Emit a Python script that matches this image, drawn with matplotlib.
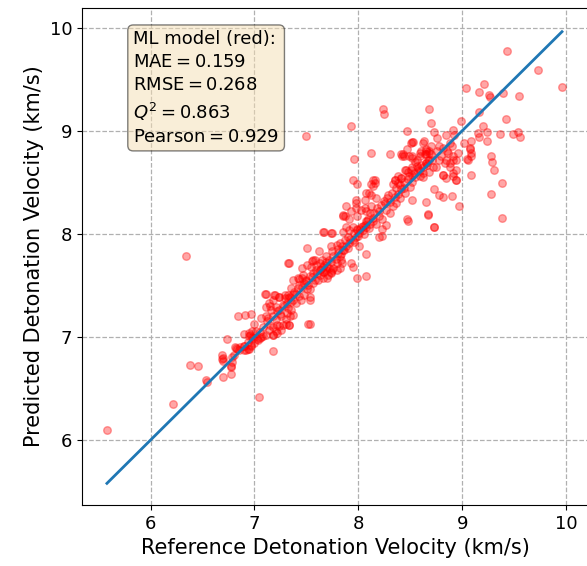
import numpy as np
import matplotlib
matplotlib.use('Agg')
import matplotlib.pyplot as plt

# Data (km/s)
ref = [5.58, 6.22, 6.34, 6.375, 6.46, 6.53, 6.54, 6.70, 6.77, 6.70, 6.69, 6.78, 6.77, 6.80,
       6.83, 6.90, 6.74, 6.90, 6.96, 6.98, 6.94, 7.04, 7.18, 6.84, 6.91, 6.97, 7.00, 7.11, 7.13,
       7.18, 7.22, 7.33, 7.53, 7.53,
       6.69, 6.70, 6.77, 6.78, 6.82, 6.85, 6.90, 6.92, 6.95, 6.97, 6.95, 6.99, 7.03, 7.06,
       7.11, 7.14, 7.20, 7.24, 7.29, 7.32, 7.35, 7.18, 7.22, 7.26, 7.30, 7.33,
       7.10, 7.19, 7.18, 7.11, 7.16, 7.21, 7.24, 7.29, 7.32, 7.35, 7.37, 7.33,
       7.37, 7.42, 7.43, 7.47, 7.50, 7.53, 7.53,
       7.46, 7.51, 7.55, 7.59, 7.63, 7.66, 7.67, 7.71, 7.74, 7.76, 7.74, 7.79, 7.82, 7.84, 7.69,
       7.51, 7.62, 7.74, 7.79, 7.82, 7.83, 7.93, 7.95, 7.99, 8.07, 7.67,
       7.74, 7.85, 7.88, 7.91, 7.95, 7.99, 8.04, 7.85, 7.87, 7.98, 8.03, 7.98, 8.07, 8.01,
       7.96, 8.12, 8.30, 8.41, 8.44, 8.51, 8.62, 8.65, 8.68, 8.78, 8.81, 8.84,
       7.95, 7.99, 8.14, 8.12, 8.16, 8.07, 8.12,
       8.35, 8.38, 8.41, 8.44, 8.48, 8.51, 8.54, 8.57, 8.59, 8.62, 8.65, 8.66,
       8.73, 8.78, 8.52, 8.47, 8.67, 8.73, 8.23, 8.33,
       7.88, 7.93, 7.98, 8.06, 8.11, 7.85, 7.91, 7.99, 8.07, 8.14, 8.20, 8.27, 8.30, 8.35, 8.38, 8.41,
       9.04, 9.16, 9.21, 9.26, 9.39, 9.42, 8.68, 8.70, 8.99, 9.16, 9.20, 8.47, 8.73, 8.91, 8.92,
       8.52, 8.63, 9.15, 9.16, 9.24, 9.24, 9.36, 9.02, 9.08, 9.07, 9.05, 9.08,
       9.28, 9.29, 9.31, 9.08, 8.91, 8.96, 8.94, 8.88, 8.83, 8.81, 8.91,
       8.43, 8.52, 8.59, 8.65, 8.70, 8.76, 8.67, 8.60, 8.52, 8.46, 8.72, 8.78,
       8.76, 8.84, 8.88,
       9.49, 9.54, 9.56, 9.07, 9.08, 9.06, 9.38, 9.28, 9.38, 8.97, 8.90, 8.81,
       8.94, 8.84, 9.43, 9.73, 9.96, 9.27, 9.55, 8.24, 8.25, 7.93, 7.50, 7.65, 7.56,
       8.65, 8.67, 8.73, 8.48, 8.23, 7.66, 7.75, 8.07,
       8.06, 8.10, 8.14, 8.16, 8.29, 8.35, 8.41, 8.49, 8.52,
       8.47, 8.53, 8.42, 8.49, 8.52, 8.56, 8.59, 8.64, 8.65, 8.68, 8.56, 8.59, 8.65, 8.68, 8.71,
       8.81, 8.88, 8.91, 8.86, 8.94, 8.94, 8.91,
       6.81, 6.86, 6.90, 6.94, 6.97, 7.00, 7.05, 7.08, 6.95, 7.01, 7.11, 7.14, 7.18, 7.21, 7.24,
       7.27, 7.30, 7.34, 7.37, 7.52, 7.32,
       7.24, 7.27, 7.31, 7.34, 7.37, 7.38, 7.42, 7.43, 7.46, 7.50, 7.53, 7.56, 7.59, 7.63, 7.66,
       7.69, 7.72, 7.75, 7.79, 7.82, 7.85, 7.88, 7.91, 7.95, 7.98, 8.01, 8.04, 8.07, 8.11, 8.14,
       7.74, 7.70, 7.66, 7.61, 7.56, 7.51, 7.48, 7.45, 7.40, 7.35, 7.31, 7.26, 7.21,
       7.54, 7.58, 7.63, 7.69, 7.75, 7.80, 7.84, 7.87, 7.90, 7.96, 7.99, 8.03, 8.06, 8.09,
       8.17, 8.23, 8.27, 8.20,
       8.18, 8.22, 8.25, 8.28, 8.32, 8.36, 8.40, 8.44, 8.48, 8.52, 8.55, 8.58, 8.62, 8.45, 8.50,
       8.36, 8.30, 8.40, 8.26, 8.20, 8.15, 8.12, 8.17, 8.33, 8.38, 8.45, 8.55, 8.60, 8.70, 8.62,
       8.68, 8.75, 8.80, 8.85, 8.90,
       7.05, 7.08, 7.12, 7.15, 7.18, 7.22, 7.25, 7.28, 7.32, 7.02, 6.98, 7.06, 7.15, 7.40, 7.43,
       7.46, 7.48, 7.52, 7.55, 7.58, 7.60, 7.64, 7.67, 7.70, 7.72, 7.76, 7.78, 7.80, 7.83, 7.86,
       7.90, 7.92, 7.96, 8.00, 8.02, 8.05, 8.08, 8.10]

pred = [6.10, 6.35, 7.78, 6.73, 6.72, 6.58, 6.56, 6.61, 6.64, 6.80, 6.82, 6.81, 6.72, 6.82,
        6.88, 6.87, 6.98, 7.03, 7.02, 7.00, 6.95, 6.42, 6.86, 7.20, 7.21, 7.22, 7.13, 7.20, 7.18,
        7.02, 7.04, 7.12, 7.13, 7.36,
        6.79, 6.77, 6.71, 6.76, 6.89, 6.87, 6.91, 6.87, 6.88, 6.91, 7.04, 6.99, 6.97, 7.00,
        7.42, 7.33, 7.41, 7.39, 7.41, 7.38, 7.34, 7.10, 7.12, 7.07, 7.13, 7.12,
        7.42, 7.41, 7.36, 7.29, 7.26, 7.29, 7.39, 7.38, 7.41, 7.47, 7.42, 7.72,
        7.55, 7.57, 7.50, 7.60, 7.55, 7.46, 7.39,
        7.67, 7.70, 7.74, 7.70, 7.65, 7.68, 7.63, 7.60, 7.63, 7.67, 7.73, 7.65, 7.67, 7.72, 7.78,
        7.86, 7.83, 7.88, 7.89, 7.91, 7.75, 7.72, 7.68, 7.57, 7.59, 8.02,
        8.01, 8.02, 8.07, 8.04, 8.07, 8.05, 8.08, 8.18, 8.17, 8.25, 8.23, 8.33, 7.80, 7.88,
        8.73, 8.78, 8.77, 8.77, 8.75, 8.88, 8.88, 8.77, 8.80, 8.85, 8.83, 8.72,
        8.52, 8.48, 8.52, 8.48, 8.49, 8.40, 8.38,
        8.52, 8.49, 8.54, 8.44, 8.60, 8.62, 8.59, 8.64, 8.56, 8.59, 8.69, 8.67,
        8.43, 8.38, 8.33, 8.14, 8.18, 8.07, 8.14, 8.27,
        8.27, 8.22, 8.30, 8.25, 8.20, 8.17, 8.14, 8.17, 8.12, 8.15, 8.17, 8.23, 8.31, 8.36, 8.39, 8.43,
        9.41, 9.38, 9.45, 9.35, 9.37, 9.11, 9.21, 9.07, 9.09, 9.18, 9.05, 9.00, 8.99, 9.01, 8.96,
        8.89, 8.90, 8.98, 8.94, 8.99, 8.90, 8.97, 8.88, 8.90, 8.83, 8.73, 8.75,
        8.75, 8.70, 8.62, 8.57, 8.75, 8.78, 8.72, 8.65, 8.69, 8.57, 8.56,
        8.77, 8.75, 8.78, 8.82, 8.77, 8.80, 8.72, 8.67, 8.65, 8.62, 8.65, 8.72,
        8.93, 8.96, 8.88,
        8.97, 8.99, 8.94, 8.82, 8.78, 8.72, 8.49, 8.39, 8.15, 8.27, 8.37, 8.36,
        8.52, 8.54, 9.77, 9.59, 9.42, 9.33, 9.34, 9.21, 9.16, 9.05, 8.95, 7.75, 7.75,
        8.31, 8.19, 8.07, 8.12, 7.98, 8.02, 8.01, 8.22,
        8.33, 8.40, 8.46, 8.52, 8.38, 8.52, 8.54, 8.56, 8.57,
        8.82, 8.89, 8.75, 8.75, 8.74, 8.72, 8.75, 8.77, 8.80, 8.78, 8.66, 8.61, 8.69, 8.72, 8.72,
        8.57, 8.69, 8.72, 8.78, 8.62, 8.52, 8.59,
        6.90, 6.90, 6.91, 6.88, 6.92, 6.94, 6.99, 7.01, 7.01, 7.06, 7.02, 7.07, 7.02, 7.06, 7.11,
        7.12, 7.17, 7.20, 7.21, 7.13, 7.72,
        7.26, 7.31, 7.33, 7.39, 7.36, 7.44, 7.47, 7.56, 7.57, 7.54, 7.59, 7.62, 7.65, 7.60, 7.63,
        7.65, 7.67, 7.65, 7.72, 7.78, 7.84, 7.88, 7.91, 7.94, 7.97, 8.01, 8.04, 8.07, 8.10, 8.12,
        7.62, 7.57, 7.57, 7.55, 7.52, 7.46, 7.41, 7.36, 7.33, 7.26, 7.23, 7.20, 7.17,
        7.68, 7.75, 7.72, 7.73, 7.83, 7.81, 7.88, 7.94, 7.97, 8.01, 8.04, 8.07, 8.09, 8.14,
        8.10, 8.05, 8.09, 7.97,
        8.25, 8.28, 8.32, 8.35, 8.40, 8.44, 8.47, 8.50, 8.53, 8.50, 8.55, 8.62, 8.65, 8.40, 8.45,
        8.30, 8.20, 8.35, 8.30, 8.22, 8.20, 8.27, 8.35, 8.48, 8.56, 8.62, 8.70, 8.80, 8.85, 8.55,
        8.60, 8.65, 8.75, 8.80, 8.85,
        7.05, 7.10, 7.15, 7.12, 7.20, 7.25, 7.22, 7.30, 7.28, 6.98, 7.06, 7.18, 7.30, 7.42, 7.40,
        7.48, 7.52, 7.50, 7.58, 7.55, 7.62, 7.66, 7.70, 7.68, 7.75, 7.78, 7.76, 7.85, 7.80, 7.84,
        7.86, 7.95, 7.92, 7.98, 8.05, 8.00, 8.12, 8.06]

ref = np.array(ref)
pred = np.array(pred)

# metrics quoted in the box
mae, rmse, q2, pearson = 0.159, 0.268, 0.863, 0.929

fig = plt.figure(figsize=(5.87, 5.66), dpi=100)
ax = fig.add_axes([82/587, 61/566, 507/587, 497/566])

ax.scatter(ref, pred, s=30, color='red', alpha=0.35, zorder=2)
lims = [ref.min(), ref.max()]
ax.plot(lims, lims, color='#1f77b4', linewidth=2, zorder=3)

ax.set_xlim(5.34, 10.22)
ax.set_ylim(5.37, 10.19)
ax.set_xticks([6, 7, 8, 9, 10])
ax.set_yticks([6, 7, 8, 9, 10])
ax.tick_params(labelsize=13)
ax.grid(color='#b0b0b0', linestyle='--', linewidth=0.9)
ax.set_axisbelow(True)

ax.set_xlabel('Reference Detonation Velocity (km/s)', fontsize=15)
ax.set_ylabel('Predicted Detonation Velocity (km/s)', fontsize=15)

txt = ('ML model (red):\n'
       r'$\mathrm{MAE} = %.3f$' % mae + '\n' +
       r'$\mathrm{RMSE} = %.3f$' % rmse + '\n' +
       r'$Q^2 = %.3f$' % q2 + '\n' +
       r'$\mathrm{Pearson} = %.3f$' % pearson)
ax.text(0.101, 0.955, txt, transform=ax.transAxes, fontsize=13, va='top',
        linespacing=1.35,
        bbox=dict(boxstyle='round', facecolor='wheat', alpha=0.5))

plt.savefig('out.png', dpi=100)
